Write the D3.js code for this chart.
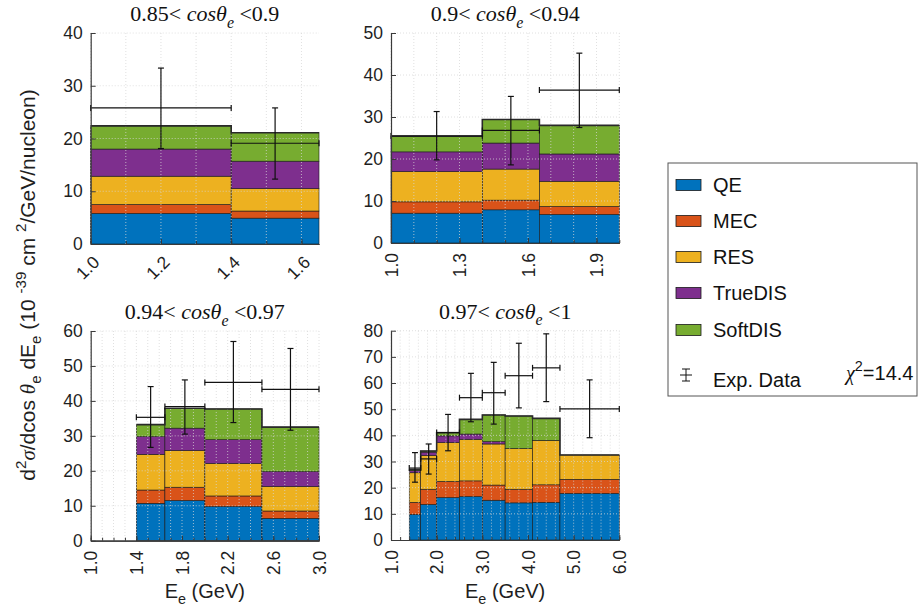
<!DOCTYPE html>
<html>
<head>
<meta charset="utf-8">
<script src="https://cdn.jsdelivr.net/npm/d3@7"></script>
<style>
  body { margin: 0; background: #fff; }
  svg { display: block; }
  .tick text { font-family: "Liberation Sans", Arial, sans-serif; font-size: 17px; fill: #1f1f1f; }
</style>
</head>
<body>
<svg id="chart" width="919" height="612"></svg>
<script>
// componenten van het gestapelde model, volgorde van onder naar boven
var series = ["QE", "MEC", "RES", "TrueDIS", "SoftDIS"];
var colors = ["#0072BD", "#D95319", "#EDB120", "#7E2F8E", "#77AC30"];
var chi2 = "14.4";

// paneel 1: 0.85 < cos < 0.9
var p1Title = ["0.85", "0.9"];
var p1Edges = [1.0, 1.4, 1.65];
var p1QE = [5.8, 4.9];
var p1MEC = [1.7, 1.35];
var p1RES = [5.35, 4.25];
var p1TrueDIS = [5.15, 5.2];
var p1SoftDIS = [4.4, 5.4];
var p1Data = [25.8, 19.1];
var p1ErrLo = [18.1, 12.3];
var p1ErrHi = [33.35, 25.8];
var p1XTicks = [1.0, 1.2, 1.4, 1.6];
var p1YTicks = [0, 10, 20, 30, 40];

// paneel 2: 0.9 < cos < 0.94
var p2Title = ["0.9", "0.94"];
var p2Edges = [1.0, 1.4, 1.65, 2.0];
var p2QE = [7.1, 7.9, 6.8];
var p2MEC = [2.7, 2.3, 1.9];
var p2RES = [7.2, 7.4, 6.0];
var p2TrueDIS = [4.7, 6.2, 6.5];
var p2SoftDIS = [3.7, 5.6, 6.8];
var p2Data = [25.5, 26.8, 36.4];
var p2ErrLo = [19.8, 18.6, 27.5];
var p2ErrHi = [31.3, 34.9, 45.2];
var p2XTicks = [1.0, 1.3, 1.6, 1.9];
var p2YTicks = [0, 10, 20, 30, 40, 50];

// paneel 3: 0.94 < cos < 0.97
var p3Title = ["0.94", "0.97"];
var p3Edges = [1.4, 1.65, 2.0, 2.5, 3.0];
var p3QE = [10.7, 11.5, 9.8, 6.4];
var p3MEC = [3.8, 3.8, 3.0, 2.1];
var p3RES = [10.2, 10.5, 9.3, 7.0];
var p3TrueDIS = [5.1, 6.4, 6.8, 4.3];
var p3SoftDIS = [3.4, 5.7, 8.8, 12.7];
var p3Data = [35.3, 38.4, 45.3, 43.3];
var p3ErrLo = [26.7, 30.5, 33.8, 31.6];
var p3ErrHi = [44.1, 46.0, 57.0, 55.0];
var p3XTicks = [1.0, 1.4, 1.8, 2.2, 2.6, 3.0];
var p3YTicks = [0, 10, 20, 30, 40, 50, 60];

// paneel 4: 0.97 < cos < 1
var p4Title = ["0.97", "1"];
var p4Edges = [1.4, 1.65, 2.0, 2.5, 3.0, 3.5, 4.1, 4.7, 6.0];
var p4QE = [9.8, 13.6, 16.2, 16.6, 15.2, 14.2, 14.4, 17.8];
var p4MEC = [4.6, 5.8, 6.2, 6.0, 5.8, 5.2, 6.7, 5.4];
var p4RES = [11.3, 12.9, 14.8, 15.9, 15.7, 15.6, 17.0, 9.3];
var p4TrueDIS = [0.8, 1.3, 2.6, 2.0, 0.9, 0, 0, 0];
var p4SoftDIS = [0.4, 0.4, 1.2, 5.6, 10.2, 12.4, 8.4, 0];
var p4Data = [27.5, 31.0, 41.1, 54.4, 56.3, 62.8, 65.8, 50.1];
var p4ErrLo = [22.1, 25.2, 34.1, 45.2, 44.3, 50.5, 52.9, 39.1];
var p4ErrHi = [33.4, 36.7, 48.0, 63.7, 67.9, 75.2, 78.8, 61.2];
var p4XTicks = [1.0, 2.0, 3.0, 4.0, 5.0, 6.0];
var p4YTicks = [0, 10, 20, 30, 40, 50, 60, 70, 80];

var panels = [
    { title: p1Title, edges: p1Edges, comps: [p1QE, p1MEC, p1RES, p1TrueDIS, p1SoftDIS],
      data: p1Data, lo: p1ErrLo, hi: p1ErrHi, xTicks: p1XTicks, yTicks: p1YTicks,
      xDomain: [1.0, 1.65], gridStep: 0.1, rot: 45, box: [90.7, 319, 33, 244] },
    { title: p2Title, edges: p2Edges, comps: [p2QE, p2MEC, p2RES, p2TrueDIS, p2SoftDIS],
      data: p2Data, lo: p2ErrLo, hi: p2ErrHi, xTicks: p2XTicks, yTicks: p2YTicks,
      xDomain: [1.0, 2.0], gridStep: 0.1, rot: 90, box: [391, 619.3, 33, 243] },
    { title: p3Title, edges: p3Edges, comps: [p3QE, p3MEC, p3RES, p3TrueDIS, p3SoftDIS],
      data: p3Data, lo: p3ErrLo, hi: p3ErrHi, xTicks: p3XTicks, yTicks: p3YTicks,
      xDomain: [1.0, 3.0], gridStep: 0.1, rot: 90, box: [90.7, 319, 331, 540.7], xlabel: true },
    { title: p4Title, edges: p4Edges, comps: [p4QE, p4MEC, p4RES, p4TrueDIS, p4SoftDIS],
      data: p4Data, lo: p4ErrLo, hi: p4ErrHi, xTicks: p4XTicks, yTicks: p4YTicks,
      xDomain: [1.0, 6.0], gridStep: 0.2, rot: 90, box: [391, 619.3, 330.7, 540], xlabel: true }
];

var svg = d3.select("#chart");
var sans = '"Liberation Sans", Arial, sans-serif';
var serif = '"Liberation Serif", "DejaVu Serif", serif';

// tekst met sub- en superscript in losse tspans
function richText(sel, parts, size) {
    var shift = 0;
    parts.forEach(function(p) {
        var target = p.sup ? -0.45 * size : (p.sub ? 0.3 * size : 0);
        var ts = sel.append("tspan")
            .attr("dy", target - shift)
            .style("font-size", (p.sup || p.sub ? size * 0.72 : size) + "px")
            .style("white-space", "pre")
            .text(p.t);
        if (p.serif) ts.style("font-family", serif);
        if (p.italic) ts.style("font-style", "italic");
        shift = target;
    });
}

panels.forEach(function(p) {
    var x = d3.scaleLinear().domain(p.xDomain).range([p.box[0], p.box[1]]);
    var y = d3.scaleLinear().domain([0, d3.max(p.yTicks)]).range([p.box[3], p.box[2]]);
    var g = svg.append("g");
    var nBins = p.edges.length - 1;
    var totals = [];

    // gestapelde balken
    for (var i = 0; i < nBins; i++) {
        var cum = 0;
        p.comps.forEach(function(vals, s) {
            var v = vals[i];
            g.append("rect")
                .attr("x", x(p.edges[i]))
                .attr("width", x(p.edges[i + 1]) - x(p.edges[i]))
                .attr("y", y(cum + v))
                .attr("height", y(cum) - y(cum + v))
                .attr("fill", colors[s])
                .attr("stroke", "#1a1a1a")
                .attr("stroke-width", 0.6);
            cum += v;
        });
        totals.push(cum);
    }

    // raster (stippellijnen over de balken heen)
    var gridX = d3.range(p.xDomain[0], p.xDomain[1] + 1e-9, p.gridStep);
    g.selectAll(".gx").data(gridX).enter().append("line")
        .attr("x1", function(d) { return x(d); })
        .attr("x2", function(d) { return x(d); })
        .attr("y1", p.box[2]).attr("y2", p.box[3])
        .attr("stroke", "#d6d6d6").attr("stroke-opacity", 0.75)
        .attr("stroke-width", 1).attr("stroke-dasharray", "1,2");
    g.selectAll(".gy").data(p.yTicks.slice(1)).enter().append("line")
        .attr("x1", p.box[0]).attr("x2", p.box[1])
        .attr("y1", function(d) { return y(d); })
        .attr("y2", function(d) { return y(d); })
        .attr("stroke", "#d6d6d6").attr("stroke-opacity", 0.75)
        .attr("stroke-width", 1).attr("stroke-dasharray", "1,2");

    // omtrek van het totaal
    var stairs = [];
    for (var j = 0; j < nBins; j++) {
        stairs.push([x(p.edges[j]), y(totals[j])]);
        stairs.push([x(p.edges[j + 1]), y(totals[j])]);
    }
    g.append("path")
        .attr("d", d3.line()(stairs))
        .attr("fill", "none")
        .attr("stroke", "#2a2a2a")
        .attr("stroke-width", 1.6);

    // meetpunten met foutbalken
    var cap = 3;
    for (var k = 0; k < nBins; k++) {
        var cx = x((p.edges[k] + p.edges[k + 1]) / 2);
        var cy = y(p.data[k]);
        var xl = x(p.edges[k]), xr = x(p.edges[k + 1]);
        var yl = y(p.lo[k]), yh = y(p.hi[k]);
        var segs = [
            [[cx, yl], [cx, yh]], [[cx - cap, yl], [cx + cap, yl]], [[cx - cap, yh], [cx + cap, yh]],
            [[xl, cy], [xr, cy]], [[xl, cy - cap], [xl, cy + cap]], [[xr, cy - cap], [xr, cy + cap]]
        ];
        segs.forEach(function(sg) {
            g.append("path").attr("d", d3.line()(sg))
                .attr("stroke", "#111").attr("stroke-width", 1.2).attr("fill", "none");
        });
    }

    // assen
    var yAxis = g.append("g")
        .attr("transform", "translate(" + p.box[0] + ",0)")
        .call(d3.axisLeft(y).tickValues(p.yTicks).tickSize(-5).tickSizeOuter(0).tickPadding(8));
    var xMinor = g.append("g")
        .attr("transform", "translate(0," + p.box[3] + ")")
        .call(d3.axisBottom(x).tickValues(gridX).tickSize(-3).tickSizeOuter(0).tickFormat(""));
    var xAxis = g.append("g")
        .attr("transform", "translate(0," + p.box[3] + ")")
        .call(d3.axisBottom(x).tickValues(p.xTicks).tickSize(-5).tickSizeOuter(0).tickFormat(d3.format(".1f")));
    [yAxis, xAxis, xMinor].forEach(function(a) {
        a.select(".domain").attr("stroke", "#3a3a3a").attr("stroke-width", 1.2);
        a.selectAll(".tick line").attr("stroke", "#3a3a3a");
    });
    yAxis.selectAll("text").style("font-size", "17.5px");
    xAxis.selectAll("text").style("font-size", "17.5px");
    if (p.rot === 45) {
        xAxis.selectAll("text")
            .attr("x", 0).attr("y", 0).attr("dy", "0.35em")
            .attr("text-anchor", "end")
            .attr("transform", "translate(5,15) rotate(-45)");
    } else {
        xAxis.selectAll("text")
            .attr("x", -10).attr("y", 0).attr("dy", "0.35em")
            .attr("text-anchor", "end")
            .attr("transform", "rotate(-90)");
    }

    // titel
    var t = g.append("text")
        .attr("x", (p.box[0] + p.box[1]) / 2)
        .attr("y", p.box[2] - 12)
        .attr("text-anchor", "middle")
        .style("font-family", serif).style("fill", "#111");
    richText(t, [
        { t: p.title[0] + "< " },
        { t: "cos\u03B8", italic: true },
        { t: "e", sub: true, italic: true },
        { t: " <" + p.title[1] }
    ], 22);

    if (p.xlabel) {
        var xl2 = g.append("text")
            .attr("x", (p.box[0] + p.box[1]) / 2)
            .attr("y", 598)
            .attr("text-anchor", "middle")
            .style("font-family", sans).style("fill", "#1f1f1f");
        richText(xl2, [{ t: "E" }, { t: "e", sub: true }, { t: " (GeV)" }], 20);
    }
});

// y-as titel
var yl = svg.append("text")
    .attr("transform", "translate(35,285) rotate(-90)")
    .attr("text-anchor", "middle")
    .style("font-family", sans).style("fill", "#1f1f1f");
richText(yl, [
    { t: "d" }, { t: "2", sup: true }, { t: "\u03C3", serif: true, italic: true },
    { t: "/dcos " }, { t: "\u03B8", serif: true, italic: true }, { t: "e", sub: true },
    { t: " dE" }, { t: "e", sub: true }, { t: " (10 " }, { t: "-39", sup: true },
    { t: " cm " }, { t: "2", sup: true }, { t: "/GeV/nucleon)" }
], 21);

// legenda
var leg = svg.append("g");
leg.append("rect")
    .attr("x", 668).attr("y", 163).attr("width", 249).attr("height", 233)
    .attr("fill", "#fff").attr("stroke", "#555").attr("stroke-width", 1);
var rowY = [185, 221, 257, 293, 330];
series.forEach(function(s, i) {
    leg.append("rect")
        .attr("x", 676).attr("y", rowY[i] - 5.5).attr("width", 25).attr("height", 11)
        .attr("fill", colors[i]).attr("stroke", "#1a1a1a").attr("stroke-width", 0.8);
    leg.append("text")
        .attr("x", 713).attr("y", rowY[i]).attr("dy", "0.35em")
        .style("font-family", sans).style("font-size", "20px").style("fill", "#111")
        .text(s);
});
var ey = 375;
[[[686, ey - 6], [686, ey + 6]], [[682, ey - 6], [690, ey - 6]], [[682, ey + 6], [690, ey + 6]],
 [[680, ey], [692, ey]]].forEach(function(sg) {
    leg.append("path").attr("d", d3.line()(sg)).attr("stroke", "#111").attr("stroke-width", 1);
});
leg.append("text")
    .attr("x", 713).attr("y", 380).attr("dy", "0.35em")
    .style("font-family", sans).style("font-size", "20px").style("fill", "#111")
    .text("Exp. Data");
var et = leg.append("text")
    .attr("x", 846).attr("y", 380).attr("dy", "0.35em")
    .style("font-family", sans).style("fill", "#111");
richText(et, [
    { t: "\u03C7", serif: true, italic: true },
    { t: "2", sup: true }, { t: "=" + chi2 }
], 20);
</script>
</body>
</html>
